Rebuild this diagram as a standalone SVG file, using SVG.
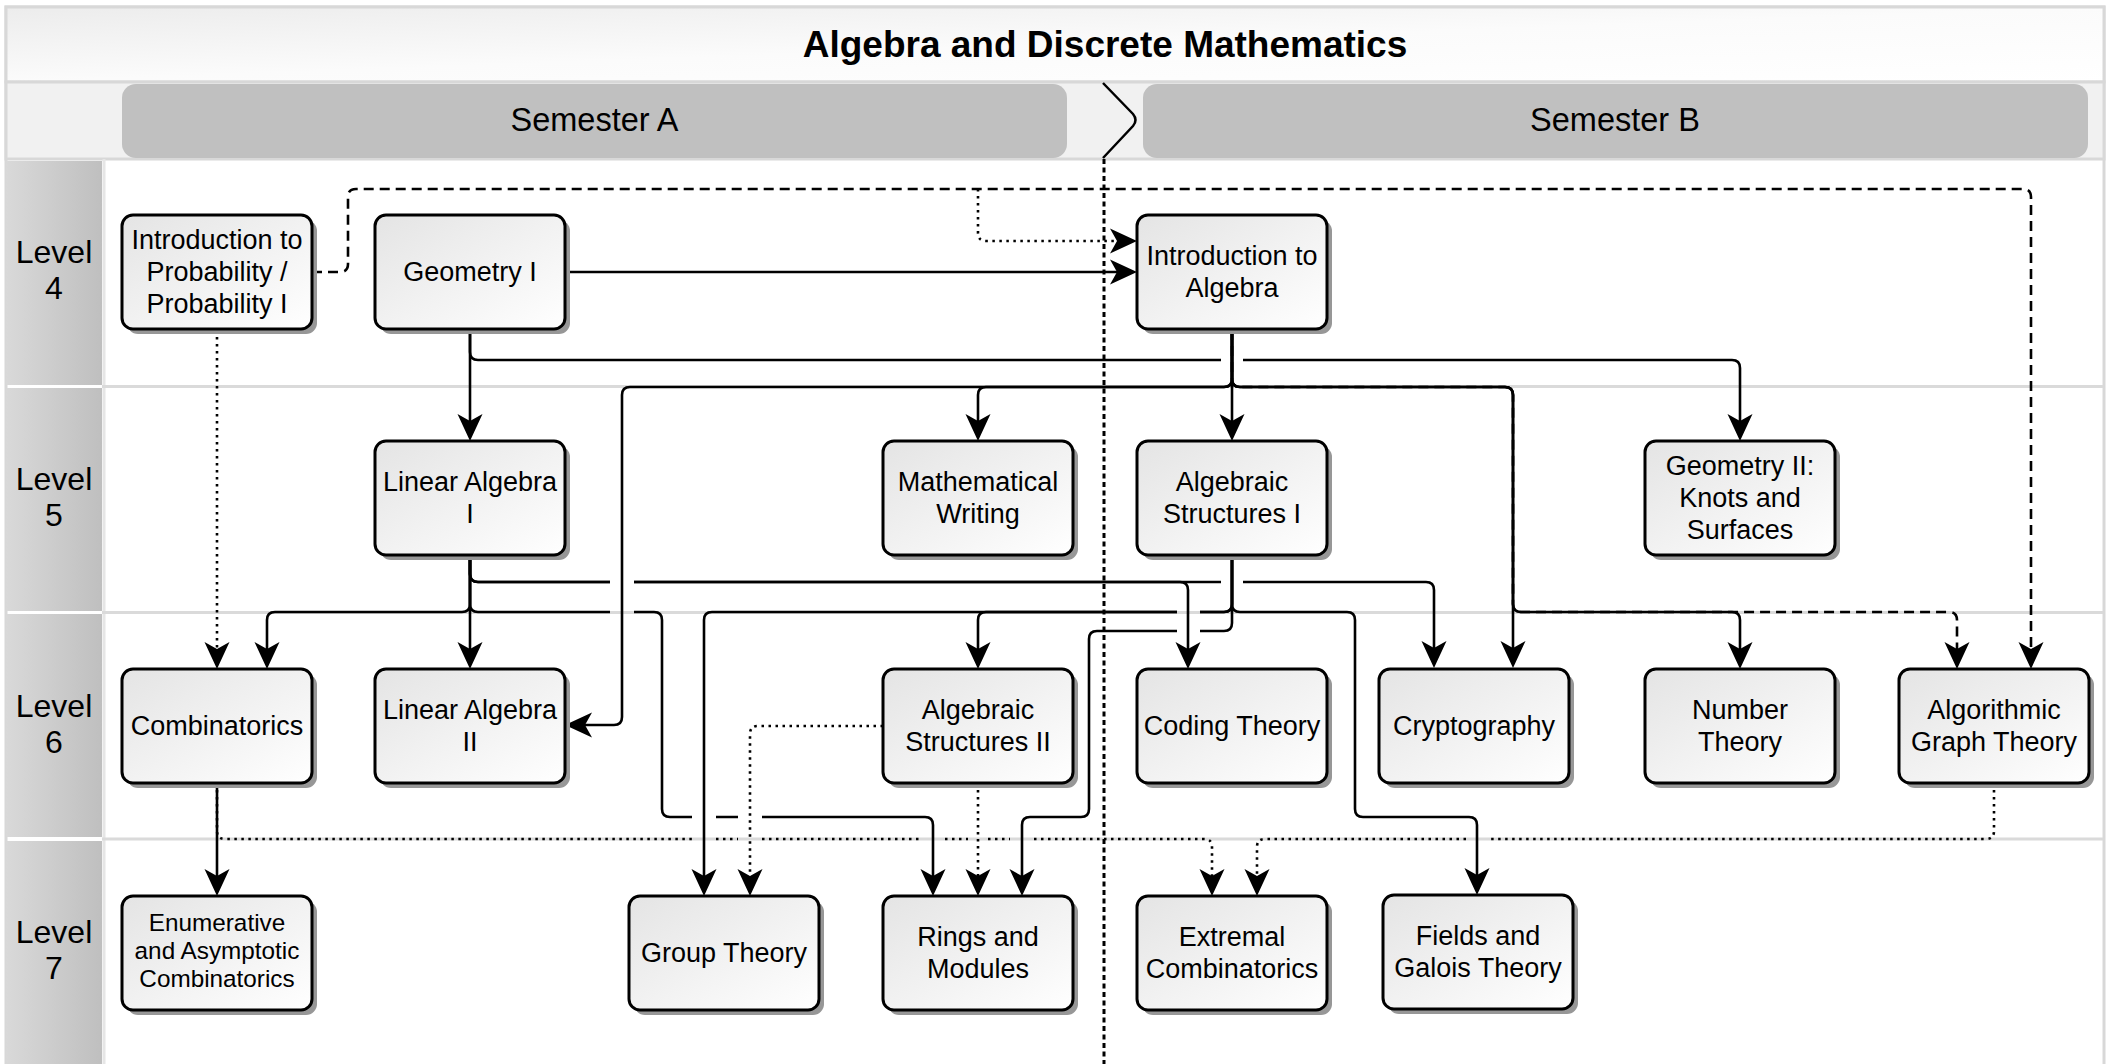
<svg xmlns="http://www.w3.org/2000/svg" width="2111" height="1064" viewBox="0 0 2111 1064">
  <defs>
    <linearGradient id="nodeFill" x1="0" y1="0" x2="1" y2="1">
      <stop offset="0" stop-color="#e4e4e4"/>
      <stop offset="1" stop-color="#ffffff"/>
    </linearGradient>
    <linearGradient id="levelFill" x1="0" y1="0" x2="1" y2="0">
      <stop offset="0" stop-color="#d9d9d9"/>
      <stop offset="1" stop-color="#bfbfbf"/>
    </linearGradient>
    <linearGradient id="bandFill" x1="0" y1="0" x2="1" y2="1">
      <stop offset="0" stop-color="#ececec"/>
      <stop offset="0.5" stop-color="#fbfbfb"/>
      <stop offset="1" stop-color="#ffffff"/>
    </linearGradient>
    <marker id="arrow" markerUnits="userSpaceOnUse" markerWidth="40" markerHeight="40" refX="0" refY="0" orient="auto" overflow="visible">
      <path d="M15,0 L-12,-12.5 L-5,0 L-12,12.5 Z" fill="#000"/>
    </marker>
    <style>
      .lbl { font-family: "Liberation Sans", Arial, sans-serif; fill: #000; text-anchor: middle; }
      .node .body { fill: url(#nodeFill); stroke: #000; stroke-width: 3; }
      .node .shadow { fill: #979797; }
      .node text { font-family: "Liberation Sans", Arial, sans-serif; font-size: 27px; fill: #000; text-anchor: middle; }
      .node text.small { font-size: 24.3px; }
      .c { fill: none; stroke: #000; stroke-width: 2.6; stroke-linejoin: round; }
      .arr { marker-end: url(#arrow); }
      .dot { stroke-dasharray: 2.5 4.5; }
      .dash { stroke-dasharray: 10 6; }
      .sep { stroke: #dadada; stroke-width: 3; }
    </style>
  </defs>

  <!-- frame, title and semester bands -->
  <g id="frame">
    <rect x="0" y="0" width="2111" height="1064" fill="#ffffff"/>
    <rect x="6" y="7" width="2098" height="1062" fill="#ffffff" stroke="#d8d8d8" stroke-width="3"/>
    <rect x="6" y="7" width="2098" height="75" fill="url(#bandFill)" stroke="#d8d8d8" stroke-width="3"/>
    <rect x="6" y="82" width="2098" height="77" fill="#f1f1f1" stroke="#d8d8d8" stroke-width="3"/>
    <text class="lbl" x="1105" y="57" font-size="37" font-weight="bold">Algebra and Discrete Mathematics</text>
    <rect x="122" y="84" width="945" height="74" rx="14" fill="#c0c0c0"/>
    <rect x="1143" y="84" width="945" height="74" rx="14" fill="#c0c0c0"/>
    <text class="lbl" x="594.5" y="131" font-size="32.5">Semester A</text>
    <text class="lbl" x="1615" y="131" font-size="32.5">Semester B</text>
    <path d="M1103,83 L1133,114 Q1138,120 1133,126 L1103,158" fill="none" stroke="#000" stroke-width="2.5"/>
  </g>

  <!-- level lanes -->
  <g id="levels">
    <rect x="6" y="161" width="96" height="224" fill="url(#levelFill)"/>
    <rect x="6" y="388" width="96" height="223" fill="url(#levelFill)"/>
    <rect x="6" y="614" width="96" height="223" fill="url(#levelFill)"/>
    <rect x="6" y="841" width="96" height="223" fill="url(#levelFill)"/>
    <line x1="104" y1="159" x2="104" y2="1064" stroke="#e6e6e6" stroke-width="3"/>
    <line class="sep" x1="102" y1="386.5" x2="2103" y2="386.5"/>
    <line class="sep" x1="102" y1="612.5" x2="2103" y2="612.5"/>
    <line class="sep" x1="102" y1="839" x2="2103" y2="839"/>
    <text class="lbl" x="54" y="263" font-size="32">Level</text>
    <text class="lbl" x="54" y="299" font-size="32">4</text>
    <text class="lbl" x="54" y="490" font-size="32">Level</text>
    <text class="lbl" x="54" y="526" font-size="32">5</text>
    <text class="lbl" x="54" y="717" font-size="32">Level</text>
    <text class="lbl" x="54" y="753" font-size="32">6</text>
    <text class="lbl" x="54" y="943" font-size="32">Level</text>
    <text class="lbl" x="54" y="979" font-size="32">7</text>
  </g>

  <!-- semester divider -->
  <line id="divider" x1="1104" y1="159" x2="1104" y2="1064" stroke="#000" stroke-width="3" stroke-dasharray="5 3.5"/>

  <!-- connectors -->
  <g id="connectors">
    <!-- dashed -->
    <path class="c dash arr" d="M312,272 H340 Q348,272 348,264 V197 Q348,189 356,189 H2023 Q2031,189 2031,197 V654"/>
    <path class="c dash arr" d="M1232,330 V379 Q1232,387 1240,387 H1505 Q1513,387 1513,395 V604 Q1513,612 1521,612 H1949 Q1957,612 1957,620 V654"/>
    <!-- dotted -->
    <path class="c dot arr" d="M978,189 V233 Q978,241 986,241 H1122"/>
    <path class="c dot arr" d="M217,330 V654"/>
    <path class="c dot arr" d="M217,783 V831 Q217,839 225,839 H692 M716,839 H738 M762,839 H921 M945,839 H968 M988,839 H1010 M1034,839 H1204 Q1212,839 1212,847 V881"/>
    <path class="c dot arr" d="M1994,783 V831 Q1994,839 1986,839 H1489 M1466,839 H1265 Q1257,839 1257,847 V881"/>
    <path class="c dot arr" d="M883,726 H758 Q750,726 750,734 V881"/>
    <path class="c dot arr" d="M978,783 V881"/>
    <!-- solid -->
    <path class="c arr" d="M565,272 H1122"/>
    <path class="c arr" d="M470,330 V426"/>
    <path class="c arr" d="M470,330 V352 Q470,360 478,360 H1221 M1243,360 H1732 Q1740,360 1740,368 V426"/>
    <path class="c arr" d="M1232,330 V379 Q1232,387 1224,387 H630 Q622,387 622,395 V717 Q622,725 614,725 H580"/>
    <path class="c arr" d="M1232,330 V379 Q1232,387 1224,387 H986 Q978,387 978,395 V426"/>
    <path class="c arr" d="M1232,330 V426"/>
    <path class="c arr" d="M1232,330 V379 Q1232,387 1240,387 H1505 Q1513,387 1513,395 V653"/>
    <path class="c arr" d="M1232,330 V379 Q1232,387 1240,387 H1505 Q1513,387 1513,395 V604 Q1513,612 1521,612 H1732 Q1740,612 1740,620 V654"/>
    <path class="c arr" d="M470,556 V604 Q470,612 462,612 H275 Q267,612 267,620 V654"/>
    <path class="c arr" d="M470,556 V654"/>
    <path class="c arr" d="M470,556 V574 Q470,582 478,582 H610 M634,582 H1180 Q1188,582 1188,590 V654"/>
    <path class="c arr" d="M470,556 V574 Q470,582 478,582 H610 M634,582 H1221 M1243,582 H1426 Q1434,582 1434,590 V653"/>
    <path class="c arr" d="M470,556 V604 Q470,612 478,612 H610 M634,612 H654 Q662,612 662,620 V809 Q662,817 670,817 H692 M716,817 H738 M762,817 H925 Q933,817 933,825 V881"/>
    <path class="c arr" d="M1232,556 V604 Q1232,612 1224,612 H1200 M1177,612 H712 Q704,612 704,620 V881"/>
    <path class="c arr" d="M1232,556 V604 Q1232,612 1224,612 H1200 M1177,612 H986 Q978,612 978,620 V654"/>
    <path class="c arr" d="M1232,556 V623 Q1232,631 1224,631 H1200 M1177,631 H1097 Q1089,631 1089,639 V809 Q1089,817 1081,817 H1030 Q1022,817 1022,825 V881"/>
    <path class="c arr" d="M1232,556 V604 Q1232,612 1240,612 H1347 Q1355,612 1355,620 V809 Q1355,817 1363,817 H1469 Q1477,817 1477,825 V880"/>
    <path class="c arr" d="M217,783 V881"/>
  </g>

  <!-- courses -->
  <g id="n-probability" class="node">
    <rect class="shadow" x="127" y="220" width="190" height="114" rx="11"/>
    <rect class="body" x="122" y="215" width="190" height="114" rx="11"/>
    <text x="217" y="249">Introduction to</text>
    <text x="217" y="281">Probability /</text>
    <text x="217" y="313">Probability I</text>
  </g>
  <g id="n-geometry-1" class="node">
    <rect class="shadow" x="380" y="220" width="190" height="114" rx="11"/>
    <rect class="body" x="375" y="215" width="190" height="114" rx="11"/>
    <text x="470" y="281">Geometry I</text>
  </g>
  <g id="n-intro-algebra" class="node">
    <rect class="shadow" x="1142" y="220" width="190" height="114" rx="11"/>
    <rect class="body" x="1137" y="215" width="190" height="114" rx="11"/>
    <text x="1232" y="265">Introduction to</text>
    <text x="1232" y="297">Algebra</text>
  </g>

  <g id="n-linear-algebra-1" class="node">
    <rect class="shadow" x="380" y="446" width="190" height="114" rx="11"/>
    <rect class="body" x="375" y="441" width="190" height="114" rx="11"/>
    <text x="470" y="491">Linear Algebra</text>
    <text x="470" y="523">I</text>
  </g>
  <g id="n-math-writing" class="node">
    <rect class="shadow" x="888" y="446" width="190" height="114" rx="11"/>
    <rect class="body" x="883" y="441" width="190" height="114" rx="11"/>
    <text x="978" y="491">Mathematical</text>
    <text x="978" y="523">Writing</text>
  </g>
  <g id="n-alg-structures-1" class="node">
    <rect class="shadow" x="1142" y="446" width="190" height="114" rx="11"/>
    <rect class="body" x="1137" y="441" width="190" height="114" rx="11"/>
    <text x="1232" y="491">Algebraic</text>
    <text x="1232" y="523">Structures I</text>
  </g>
  <g id="n-geometry-2" class="node">
    <rect class="shadow" x="1650" y="446" width="190" height="114" rx="11"/>
    <rect class="body" x="1645" y="441" width="190" height="114" rx="11"/>
    <text x="1740" y="475">Geometry II:</text>
    <text x="1740" y="507">Knots and</text>
    <text x="1740" y="539">Surfaces</text>
  </g>

  <g id="n-combinatorics" class="node">
    <rect class="shadow" x="127" y="674" width="190" height="114" rx="11"/>
    <rect class="body" x="122" y="669" width="190" height="114" rx="11"/>
    <text x="217" y="735">Combinatorics</text>
  </g>
  <g id="n-linear-algebra-2" class="node">
    <rect class="shadow" x="380" y="674" width="190" height="114" rx="11"/>
    <rect class="body" x="375" y="669" width="190" height="114" rx="11"/>
    <text x="470" y="719">Linear Algebra</text>
    <text x="470" y="751">II</text>
  </g>
  <g id="n-alg-structures-2" class="node">
    <rect class="shadow" x="888" y="674" width="190" height="114" rx="11"/>
    <rect class="body" x="883" y="669" width="190" height="114" rx="11"/>
    <text x="978" y="719">Algebraic</text>
    <text x="978" y="751">Structures II</text>
  </g>
  <g id="n-coding" class="node">
    <rect class="shadow" x="1142" y="674" width="190" height="114" rx="11"/>
    <rect class="body" x="1137" y="669" width="190" height="114" rx="11"/>
    <text x="1232" y="735">Coding Theory</text>
  </g>
  <g id="n-cryptography" class="node">
    <rect class="shadow" x="1384" y="674" width="190" height="114" rx="11"/>
    <rect class="body" x="1379" y="669" width="190" height="114" rx="11"/>
    <text x="1474" y="735">Cryptography</text>
  </g>
  <g id="n-number-theory" class="node">
    <rect class="shadow" x="1650" y="674" width="190" height="114" rx="11"/>
    <rect class="body" x="1645" y="669" width="190" height="114" rx="11"/>
    <text x="1740" y="719">Number</text>
    <text x="1740" y="751">Theory</text>
  </g>
  <g id="n-graph-theory" class="node">
    <rect class="shadow" x="1904" y="674" width="190" height="114" rx="11"/>
    <rect class="body" x="1899" y="669" width="190" height="114" rx="11"/>
    <text x="1994" y="719">Algorithmic</text>
    <text x="1994" y="751">Graph Theory</text>
  </g>

  <g id="n-enumerative" class="node">
    <rect class="shadow" x="127" y="901" width="190" height="114" rx="11"/>
    <rect class="body" x="122" y="896" width="190" height="114" rx="11"/>
    <text class="small" x="217" y="931">Enumerative</text>
    <text class="small" x="217" y="959">and Asymptotic</text>
    <text class="small" x="217" y="987">Combinatorics</text>
  </g>
  <g id="n-group-theory" class="node">
    <rect class="shadow" x="634" y="901" width="190" height="114" rx="11"/>
    <rect class="body" x="629" y="896" width="190" height="114" rx="11"/>
    <text x="724" y="962">Group Theory</text>
  </g>
  <g id="n-rings" class="node">
    <rect class="shadow" x="888" y="901" width="190" height="114" rx="11"/>
    <rect class="body" x="883" y="896" width="190" height="114" rx="11"/>
    <text x="978" y="946">Rings and</text>
    <text x="978" y="978">Modules</text>
  </g>
  <g id="n-extremal" class="node">
    <rect class="shadow" x="1142" y="901" width="190" height="114" rx="11"/>
    <rect class="body" x="1137" y="896" width="190" height="114" rx="11"/>
    <text x="1232" y="946">Extremal</text>
    <text x="1232" y="978">Combinatorics</text>
  </g>
  <g id="n-fields" class="node">
    <rect class="shadow" x="1388" y="900" width="190" height="114" rx="11"/>
    <rect class="body" x="1383" y="895" width="190" height="114" rx="11"/>
    <text x="1478" y="945">Fields and</text>
    <text x="1478" y="977">Galois Theory</text>
  </g>
</svg>
